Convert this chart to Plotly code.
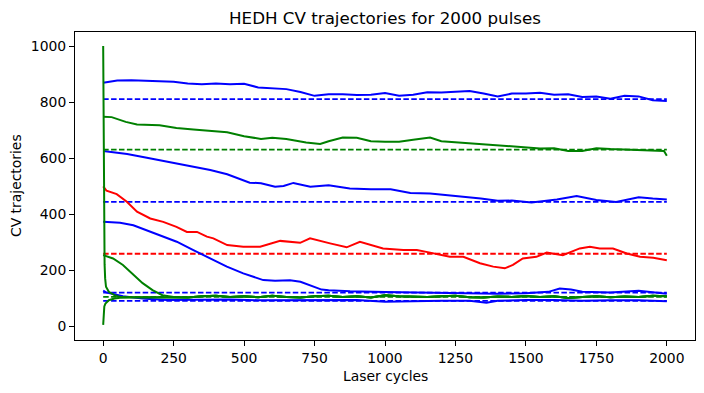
import plotly.graph_objects as go

# ---- data ----
b1_x = [0, 50, 100, 150, 200, 250, 300, 350, 400, 450, 500, 550, 600, 650, 700, 750, 800, 850, 900, 950,
        1000, 1050, 1100, 1150, 1200, 1250, 1300, 1350, 1400, 1450, 1500, 1550, 1600, 1650, 1700, 1750,
        1800, 1850, 1900, 1950, 2000]
b1_y = [869, 877, 878, 875, 874, 872, 866, 863, 866, 863, 865, 852, 848, 846, 836, 822, 828, 828, 825, 826,
        832, 822, 826, 835, 834, 836, 839, 830, 820, 830, 830, 833, 826, 828, 818, 820,
        812, 822, 820, 806, 804]

g1_x = [0, 30, 80, 120, 200, 260, 320, 380, 440, 500, 560, 600, 650, 720, 770, 800, 850, 900, 950, 1000,
        1050, 1100, 1160, 1200, 1250, 1300, 1350, 1400, 1450, 1500, 1550, 1600, 1650, 1700, 1750, 1800,
        1850, 1900, 1950, 1990, 2000]
g1_y = [747, 746, 729, 720, 717, 707, 702, 697, 692, 678, 668, 672, 668, 655, 650, 660, 673, 672, 660, 658,
        658, 665, 673, 660, 656, 652, 648, 645, 642, 636, 634, 635, 625, 625, 635, 632,
        630, 628, 628, 625, 608]

b2_x = [0, 35, 85, 155, 240, 320, 380, 440, 480, 520, 560, 610, 640, 675, 735, 800, 875, 950, 1020, 1090,
        1160, 1230, 1300, 1340, 1400, 1450, 1520, 1610, 1680, 1750, 1820, 1900, 1950, 2000]
b2_y = [625, 620, 614, 601, 584, 568, 557, 542, 527, 512, 510, 497, 500, 511, 497, 503, 491, 488, 488, 475,
        473, 467, 460, 455, 447, 448, 441, 452, 464, 450, 443, 460, 455, 452]

r1_x = [0, 12, 48, 84, 120, 167, 213, 260, 297, 333, 368, 391, 440, 497, 557, 628, 699, 734, 805, 864,
        911, 993, 1065, 1113, 1160, 1230, 1278, 1337, 1384, 1425, 1454, 1489, 1537, 1574, 1631, 1691,
        1727, 1762, 1809, 1858, 1905, 1952, 2000]
r1_y = [499, 483, 471, 444, 408, 384, 372, 354, 336, 336, 319, 313, 289, 283, 283, 304, 297, 313, 295, 281,
        301, 277, 271, 271, 262, 247, 247, 224, 212, 206, 218, 241, 247, 262, 253, 277,
        283, 277, 277, 259, 247, 244, 235]

b3_x = [0, 60, 107, 155, 202, 261, 320, 379, 439, 497, 530, 568, 610, 663, 700, 725, 750, 775, 800, 876,
        1000, 1100, 1200, 1300, 1400, 1500, 1580, 1620, 1660, 1700, 1800, 1900, 1950, 2000]
b3_y = [372, 369, 360, 342, 325, 301, 271, 241, 212, 188, 176, 164, 162, 163, 158, 148, 140, 130, 128, 124,
        121, 120, 118, 117, 115, 117, 122, 134, 130, 122, 120, 126, 120, 115]

b4_x = [0, 10, 35, 70, 107, 150, 226, 344, 450, 550, 700, 800, 900, 1000, 1100, 1200, 1300, 1360, 1400,
        1500, 1600, 1700, 1800, 1900, 2000]
b4_y = [126, 120, 114, 106, 102, 97, 93, 93, 95, 92, 93, 94, 93, 87, 89, 90, 90, 83, 90,
        93, 93, 90, 92, 92, 88]

g2_head_x = [0, 35, 70, 105, 140, 175, 210]
g2_head_y = [253, 241, 218, 184, 153, 128, 110]

g3_head_x = [0, 1, 2, 3, 4, 5, 7, 10, 20, 40, 60, 150]
g3_head_y = [1000, 800, 600, 420, 300, 220, 170, 140, 122, 110, 104, 103]

g4_head_x = [0, 1, 2, 4, 8, 20, 40, 60, 150]
g4_head_y = [4, 30, 55, 70, 80, 92, 98, 101, 103]

green_tail_x = [250, 300, 350, 400, 450, 500, 550, 600, 650, 700, 750, 800, 850, 900, 950, 1000, 1050,
                1100, 1150, 1200, 1250, 1300, 1350, 1400, 1450, 1500, 1550, 1600, 1650, 1700, 1750,
                1800, 1850, 1900, 1950, 2000]
green_tail_y = [104, 102, 106, 108, 104, 106, 103, 108, 104, 102, 106, 108, 104, 106, 102, 110, 106,
                104, 104, 106, 108, 103, 102, 105, 104, 107, 104, 106, 100, 104, 106,
                103, 105, 104, 108, 106]

target_levels = [810, 630, 443, 258, 119, 104, 90]
target_colors = ["blue", "green", "blue", "red", "blue", "green", "blue"]
target_span = [0, 2000]

title_text = "HEDH CV trajectories for 2000 pulses"
x_label = "Laser cycles"
y_label = "CV trajectories"
x_ticks = [0, 250, 500, 750, 1000, 1250, 1500, 1750, 2000]
y_ticks = [0, 200, 400, 600, 800, 1000]

# ---- figure ----
fig = go.Figure()
LW = 2
DASH = "5.5px,2.4px"


def solid(x, y, color):
    fig.add_trace(go.Scatter(x=x, y=y, mode="lines", line=dict(color=color, width=LW),
                             showlegend=False, hoverinfo="skip"))


def dashed(level, color):
    fig.add_trace(go.Scatter(x=target_span, y=[level, level], mode="lines",
                             line=dict(color=color, width=1.8, dash=DASH),
                             showlegend=False, hoverinfo="skip"))


solid(b1_x, b1_y, "blue")
dashed(target_levels[0], target_colors[0])
solid(b2_x, b2_y, "blue")
dashed(target_levels[2], target_colors[2])
solid(r1_x, r1_y, "red")
dashed(target_levels[3], target_colors[3])
solid(b3_x, b3_y, "blue")
dashed(target_levels[4], target_colors[4])
solid(b4_x, b4_y, "blue")
dashed(target_levels[6], target_colors[6])
solid(g1_x, g1_y, "green")
dashed(target_levels[1], target_colors[1])
solid(g2_head_x + green_tail_x, g2_head_y + green_tail_y, "green")
dashed(target_levels[5], target_colors[5])
solid(g3_head_x + green_tail_x, g3_head_y + green_tail_y, "green")
solid(g4_head_x + green_tail_x, g4_head_y + green_tail_y, "green")

FONT = "DejaVu Sans"
axis_common = dict(showline=True, linecolor="black", linewidth=1, mirror=True,
                   ticks="outside", ticklen=5, tickwidth=1, tickcolor="black",
                   showgrid=False, zeroline=False,
                   tickfont=dict(family=FONT, size=13.9, color="black"))

# page has an 8px body margin, so the figure is 8px smaller each way
W, H = 696, 385
fig.update_layout(
    width=W, height=H,
    margin=dict(l=67, r=9, t=24, b=53),
    paper_bgcolor="white", plot_bgcolor="white",
    title=dict(text=title_text, x=0.5, xref="paper", xanchor="center",
               y=1 - 10 / H, yref="container", yanchor="middle",
               font=dict(family=FONT, size=16.7, color="black")),
    xaxis=dict(range=[-100, 2100], tickvals=x_ticks, **axis_common),
    yaxis=dict(range=[-50, 1050], tickvals=y_ticks, **axis_common),
    annotations=[
        dict(text=x_label, xref="paper", yref="paper", x=0.5, y=-(376 - 340) / 308,
             xanchor="center", yanchor="middle", showarrow=False,
             font=dict(family=FONT, size=13.9, color="black")),
        dict(text=y_label, xref="paper", yref="paper", x=(16 - 75) / 620, y=0.5,
             xanchor="center", yanchor="middle", textangle=-90, showarrow=False,
             font=dict(family=FONT, size=13.9, color="black")),
    ],
)

fig.write_html("out.html")
